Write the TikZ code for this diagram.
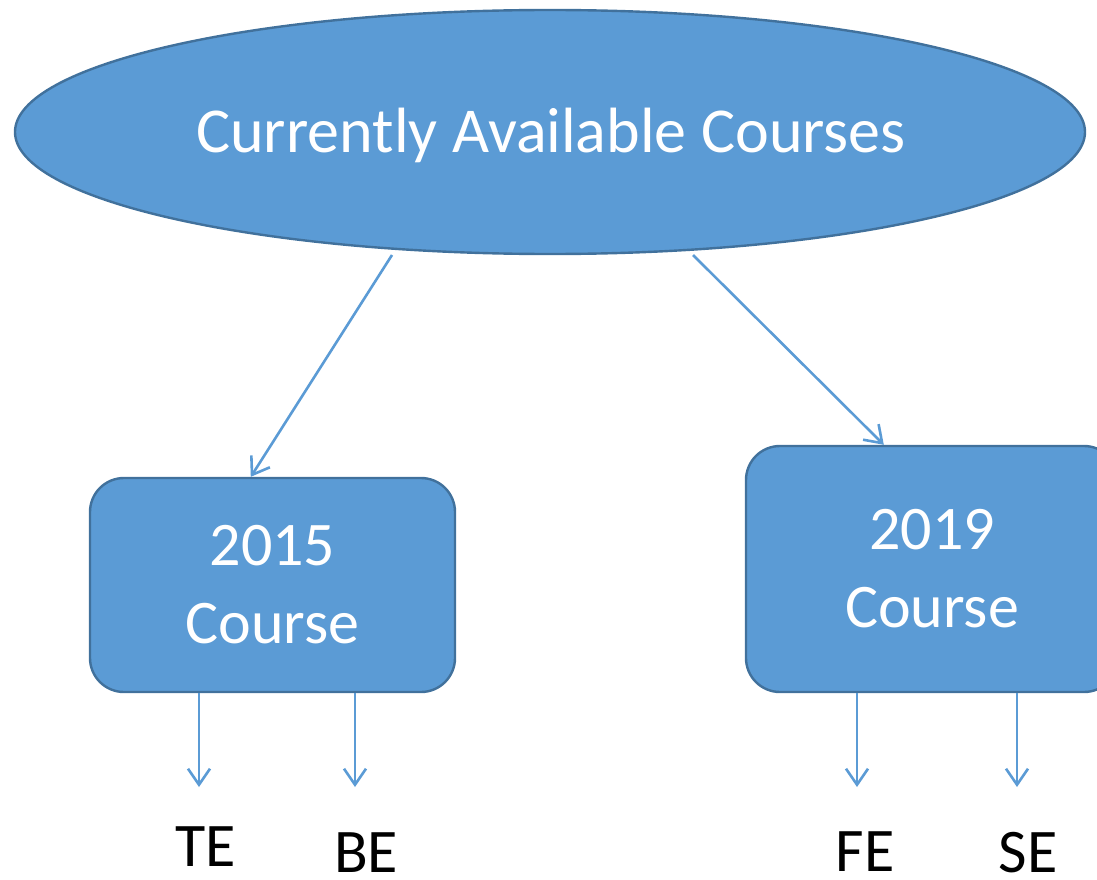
\documentclass[tikz,border=0pt]{standalone}
\usepackage{fontspec}
\setmainfont{Carlito}
\usetikzlibrary{shapes.geometric,arrows.meta,calc}
\definecolor{ofill}{HTML}{5B9BD5}
\definecolor{oline}{HTML}{41719C}
\tikzset{
  shapefill/.style={fill=ofill, draw=oline, line width=2.4pt, text=white, inner sep=0pt},
  ellshape/.style={shapefill, ellipse, minimum width=1070pt, minimum height=244pt},
  boxshape/.style={shapefill, rounded corners=34pt, align=center, font=\fontsize{62}{78}\selectfont},
  conn/.style={draw=ofill, line width=2.6pt, -{Straight Barb[length=16pt,width=22pt,line width=2.6pt]}},
  lbl/.style={text=black, inner sep=0pt, anchor=base, font=\fontsize{62}{74}\selectfont}
}
\begin{document}
\begin{tikzpicture}[x=1pt,y=-1pt]
\useasboundingbox (0,0) rectangle (1097,880);
\clip (0,0) rectangle (1097,880);
\node[ellshape] (ell) at (550,132) {};
\node[text=white, inner sep=0pt, anchor=base, font=\fontsize{64}{76}\selectfont] (title) at (551,153) {Currently Available Courses};
\node[boxshape, minimum width=365pt, minimum height=214pt] (b15) at (272.5,585) {2015\\Course};
\node[boxshape, minimum width=372pt, minimum height=246pt] (b19) at (932,569) {2019\\Course};
\coordinate (s1) at (392,255);
\coordinate (s2) at (693,255);
\draw[conn] (s1) -- ($(b15.north west)+(162,0)$);
\draw[conn] (s2) -- ($(b19.north west)+(139,0)$);
\node[lbl] (te) at (206,866) {TE};
\node[lbl] (be) at (366,872) {BE};
\node[lbl] (fe) at (865,871) {FE};
\node[lbl] (se) at (1028,872) {SE};
\coordinate (e1) at (199,787);
\coordinate (e2) at (355,787);
\coordinate (e3) at (857,787);
\coordinate (e4) at (1017,787);
\draw[conn] (b15.south -| e1) -- (e1);
\draw[conn] (b15.south -| e2) -- (e2);
\draw[conn] (b19.south -| e3) -- (e3);
\draw[conn] (b19.south -| e4) -- (e4);
\end{tikzpicture}
\end{document}
